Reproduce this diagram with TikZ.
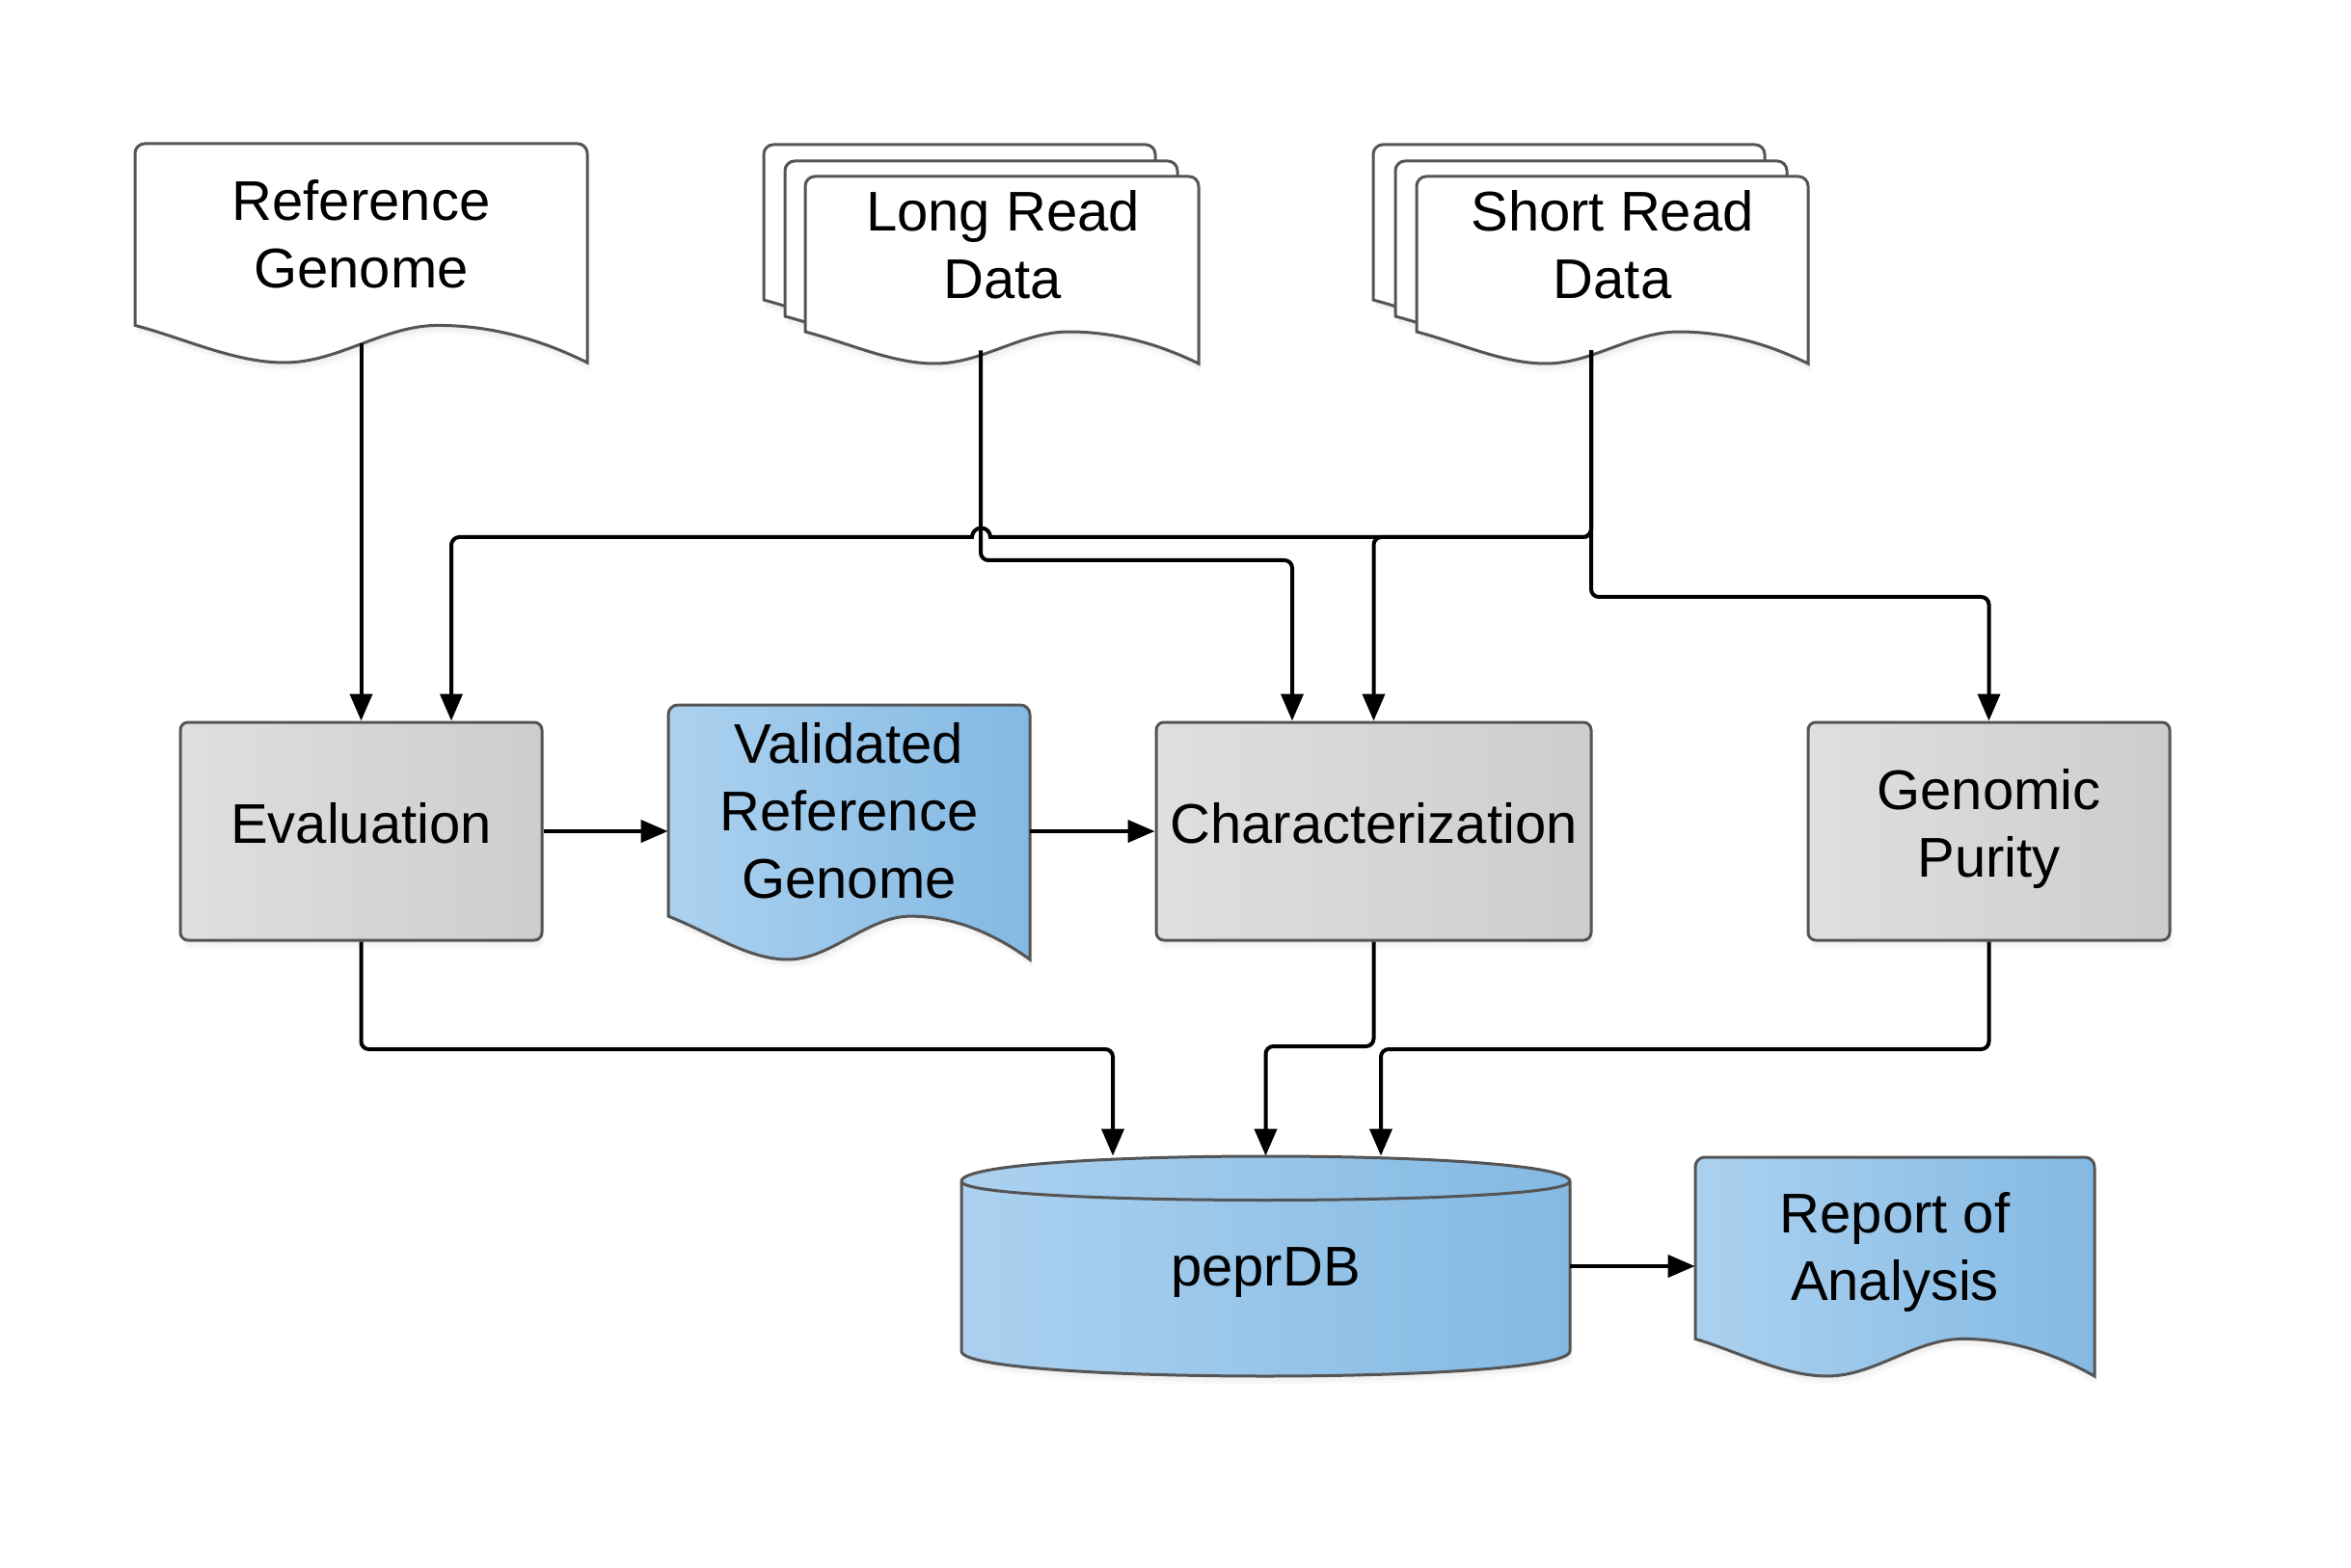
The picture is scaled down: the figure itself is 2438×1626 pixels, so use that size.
\documentclass[tikz,border=0pt]{standalone}
\usepackage{fontspec}
\setmainfont{Liberation Sans}
\usetikzlibrary{arrows.meta,shadows}
\definecolor{strk}{HTML}{555555}
\definecolor{grayA}{HTML}{DFDFDF}
\definecolor{grayB}{HTML}{CDCDCD}
\definecolor{blueA}{HTML}{ACD1EF}
\definecolor{blueB}{HTML}{83B9E3}
% line struts: total 35pt (= baselineskip)
\newcommand\sa{\rule[-7.1pt]{0pt}{35pt}}
\newcommand\sbx{\rule[-11.1pt]{0pt}{35pt}}
\newcommand\txtfont{\fontsize{29pt}{35pt}\selectfont}
\newcommand\docshape[5]{%
 \pgfmathsetmacro\docL{#2}%
 \pgfmathsetmacro\docT{#3}%
 \pgfmathsetmacro\docR{#4}%
 \pgfmathsetmacro\docW{#4-#2}%
 \pgfmathsetmacro\docA{#3+0.83*#5}%
 \pgfmathsetmacro\docB{#3+#5}%
 \pgfmathsetmacro\docD{0.17*#5}%
 \draw[#1] (\docL,\docA) -- (\docL,\docT+10)
   .. controls (\docL,\docT+4.5) and (\docL+4.5,\docT) .. (\docL+10,\docT)
   -- (\docR-10,\docT)
   .. controls (\docR-4.5,\docT) and (\docR,\docT+4.5) .. (\docR,\docT+10)
   -- (\docR,\docB)
   .. controls (\docR-0.11*\docW,\docA+\docD/3) and (\docR-0.22*\docW,\docA) .. (\docL+0.67*\docW,\docA)
   .. controls (\docL+0.55*\docW,\docA) and (\docL+0.45*\docW,\docB) .. (\docL+0.33*\docW,\docB)
   .. controls (\docL+0.22*\docW,\docB) and (\docL+0.11*\docW,\docA+0.35*\docD) .. (\docL,\docA) -- cycle;
}
\tikzset{
 shd/.style={drop shadow={opacity=0.05,shadow xshift=0.5pt,shadow yshift=-1.5pt},
             drop shadow={opacity=0.05,shadow xshift=1pt,shadow yshift=-3pt},
             drop shadow={opacity=0.04,shadow xshift=1.5pt,shadow yshift=-4.5pt}},
 shapeline/.style={draw=strk, line width=1.5pt},
 whitedoc/.style={shapeline, fill=white, shd},
 bluedoc/.style={shapeline, left color=blueA, right color=blueB, shd},
 procbox/.style={rectangle, rounded corners=4pt, shapeline, left color=grayA, right color=grayB,
                 shd, inner sep=0pt, font=\txtfont, align=center, minimum height=113pt},
 txt/.style={inner sep=0pt, font=\txtfont, align=center},
 arr/.style={draw=black, line width=2pt, -{Triangle[length=14pt,width=11.5pt]}, rounded corners=4pt},
 arrsharp/.style={draw=black, line width=2pt, -{Triangle[length=14pt,width=11.5pt]}},
}
\begin{document}
\begin{tikzpicture}[x=0.5pt,y=-0.5pt]
\useasboundingbox[fill=white] (0,0) rectangle (2438,1626);

% ---------- document shapes ----------
\docshape{whitedoc}{140}{149}{609}{227}
% long read stack
\docshape{whitedoc}{792}{150}{1198}{194}
\docshape{whitedoc}{814}{167}{1221}{194}
\docshape{whitedoc}{835}{183}{1243}{194}
% short read stack
\docshape{whitedoc}{1424}{150}{1830}{194}
\docshape{whitedoc}{1447}{167}{1853}{194}
\docshape{whitedoc}{1469}{183}{1875}{194}
% validated reference genome
\docshape{bluedoc}{693}{731}{1068}{264}
% report
\docshape{bluedoc}{1758}{1200}{2172}{227}

% ---------- database cylinder ----------
\draw[shapeline, left color=blueA, right color=blueB, shd]
  (997,1225) .. controls (997,1190.33) and (1628,1190.33) .. (1628,1225)
  -- (1628,1401) .. controls (1628,1435.67) and (997,1435.67) .. (997,1401) -- cycle;
\draw[shapeline] (997,1225) .. controls (997,1251) and (1628,1251) .. (1628,1225);

% ---------- nodes ----------
\node[txt, minimum width=235pt, minimum height=113pt] (refg) at (374.5,243) {\sa Reference\\\sa Genome};
\node[txt, minimum width=204pt, minimum height=109pt] (longr) at (1040,254) {\sa Long Read\\\sa Data};
\node[txt, minimum width=203pt, minimum height=109pt] (shortr) at (1672,254) {\sa Short Read\\\sa Data};
\node[txt, minimum width=187.5pt] (valid) at (880.5,841) {\sa Validated\\\sa Reference\\\sa Genome};
\node[txt, minimum width=207pt] (report) at (1965,1293) {\sa Report of\\\sa Analysis};
\node[txt, minimum width=315.5pt, minimum height=114pt] (pepr) at (1312.5,1313) {\sa peprDB};

\node[procbox, minimum width=187.5pt] (eval) at (374.5,862) {\sbx Evaluation};
\node[procbox, minimum width=225.5pt] (char) at (1424.5,862) {\sbx Characterization};
\node[procbox, minimum width=187.5pt] (genomic) at (2062.5,862) {\sbx Genomic\\\sbx Purity};

% ---------- connectors ----------
\draw[arr] (refg.south) -- (eval.north);
% short read -> evaluation (with line hop)
\draw[arrsharp] ([xshift=-11pt]shortr.south) -- (1650,549)
  .. controls (1650,553.4) and (1645.6,557) .. (1642,557)
  -- (1027,557)
  .. controls (1027,551.8) and (1022.7,547.5) .. (1017.5,547.5)
  .. controls (1012.3,547.5) and (1008,551.8) .. (1008,557)
  -- (476,557)
  .. controls (471.6,557) and (468,561.4) .. (468,565)
  -- ([xshift=46.75pt]eval.north);
\draw[arr] ([xshift=-11pt]shortr.south) -- (1650,557) -- (1424.5,557) -- (char.north);
\draw[arr] ([xshift=-11.5pt]longr.south) -- (1017,581) -- (1340,581) -- ([xshift=-42.25pt]char.north);
\draw[arr] ([xshift=-11pt]shortr.south) -- (1650,619) -- (2062.5,619) -- (genomic.north);
\draw[arr] (eval.east) -- (eval.east -| valid.west);
\draw[arr] (eval.east -| valid.east) -- (char.west);
\draw[arr] (eval.south) -- (374.5,1088) -- (1154,1088) -- ([xshift=-79.25pt]pepr.north);
\draw[arr] (char.south) -- (1424.5,1085) -- (1312.5,1085) -- (pepr.north);
\draw[arr] (genomic.south) -- (2062.5,1088) -- (1432,1088) -- ([xshift=59.75pt]pepr.north);
\draw[arr] (pepr.east) -- (pepr.east -| report.west);
\end{tikzpicture}
\end{document}
